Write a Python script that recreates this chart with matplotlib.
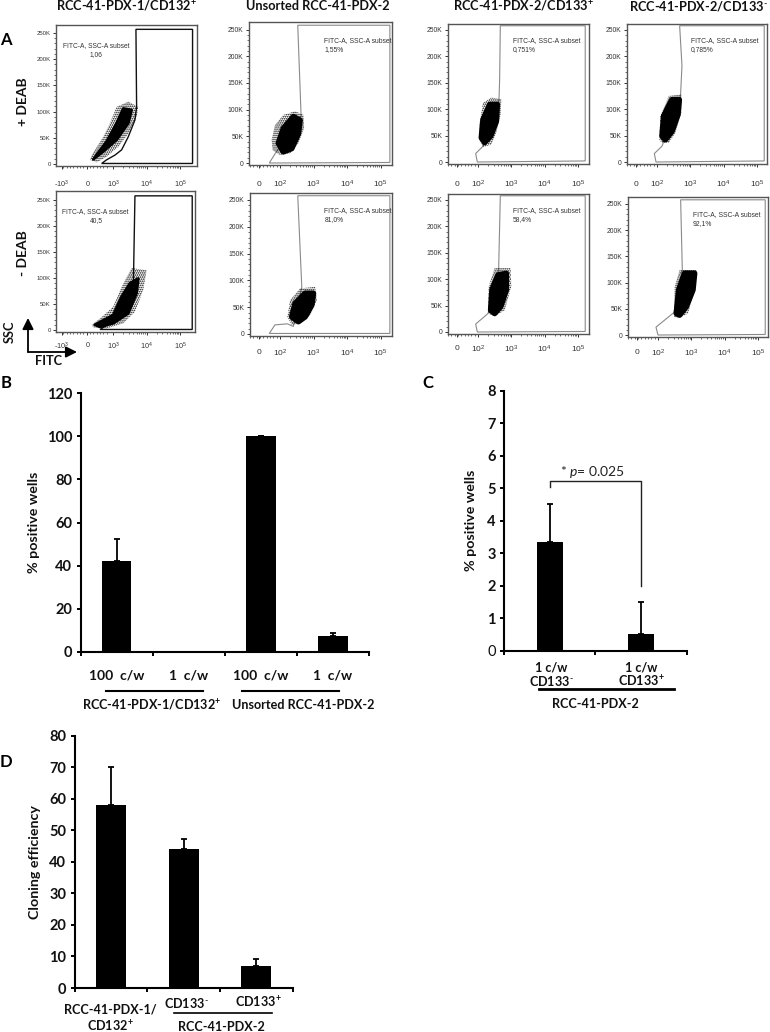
import matplotlib
matplotlib.use("Agg")
import matplotlib.pyplot as plt
import numpy as np
from matplotlib.lines import Line2D
from matplotlib.patches import Polygon, FancyArrowPatch

W, H = 770, 1032
plt.rcParams['font.family'] = ['Lato', 'DejaVu Sans']
plt.rcParams['mathtext.fontset'] = 'custom'
plt.rcParams['mathtext.it'] = 'Lato:italic'
plt.rcParams['mathtext.rm'] = 'Lato'
plt.rcParams['mathtext.default'] = 'regular'
plt.rcParams['hatch.linewidth'] = 0.8

# ---- Panel A: flow plots (x in decades, 10^2 = 0; y in thousands)
subset_labels = ["1,06", "1,55%", "0,751%", "0,785%", "40,5", "81,0%", "58,4%", "92,1%"]
gate_1 = [(0.65,1),(0.8,8),(1.05,17),(1.25,27),(1.45,52),(1.65,84),(1.7,109),(1.68,257),(3.38,257),(3.38,1)]
gate_2 = [(-0.32,0),(-0.15,17),(0.63,88),(0.53,258),(3.28,258),(3.28,1)]
gate_3 = [(-0.02,0),(-0.07,16),(0.15,30),(0.63,118),(0.65,156),(0.67,258),(3.22,258),(3.22,2)]
gate_4 = [(-0.03,0),(-0.08,16),(0.15,30),(0.70,118),(0.75,182),(0.68,258),(3.22,258),(3.22,2)]
gate_5 = [(0.6,1),(0.9,13),(1.3,32),(1.6,77),(1.65,258),(3.37,258),(3.37,1)]
gate_6 = [(-0.32,1),(-0.15,17),(0.22,19),(0.4,14),(0.65,88),(0.53,258),(3.28,258),(3.28,1)]
gate_7 = [(-0.02,0),(-0.07,15),(0.3,35),(0.62,118),(0.67,258),(3.22,258),(3.22,1)]
gate_8 = [(0,0),(-0.06,15),(0.48,43),(0.73,124),(0.68,258),(3.22,258),(3.22,1)]
cloud_1 = [(0.3,8),(0.35,17),(0.7,52),(0.9,78),(1.1,109),(1.45,119),(1.75,109),(1.7,90),(1.45,58),(1.15,33),(0.8,14),(0.5,3)]
core_1 = [(0.4,9),(0.8,43),(1.1,78),(1.3,106),(1.55,103),(1.45,78),(1.1,46),(0.7,24)]
cloud_2 = [(-0.25,43),(-0.15,71),(0.10,90),(0.45,97),(0.70,90),(0.72,65),(0.55,37),(0.30,18),(0,15),(-0.22,24)]
core_2 = [(-0.05,37),(0.10,65),(0.40,87),(0.60,80),(0.55,55),(0.35,27),(0.10,21)]
cloud_3 = [(0.03,42),(0.05,74),(0.15,112),(0.40,122),(0.70,119),(0.68,90),(0.55,56),(0.40,33),(0.15,28)]
core_3 = [(0.10,46),(0.15,80),(0.35,109),(0.58,109),(0.55,77),(0.38,49),(0.20,37)]
cloud_4 = [(0.07,42),(0.10,87),(0.35,125),(0.73,128),(0.73,93),(0.55,55),(0.35,36),(0.15,36)]
core_4 = [(0.15,49),(0.20,87),(0.45,118),(0.67,118),(0.63,90),(0.45,58),(0.25,42)]
cloud_5 = [(0.35,10),(0.6,22),(1.0,45),(1.25,83),(1.55,119),(2.0,115),(1.9,77),(1.65,35),(1.3,13),(0.8,3),(0.4,5)]
core_5 = [(0.45,10),(1.0,29),(1.25,64),(1.5,90),(1.75,99),(1.7,71),(1.45,32),(1.0,13),(0.6,6)]
cloud_6 = [(0.22,32),(0.3,63),(0.6,85),(1.05,88),(1.1,63),(0.9,35),(0.6,20),(0.35,17)]
core_6 = [(0.35,32),(0.45,57),(0.75,76),(1.0,76),(0.95,54),(0.75,32),(0.55,23)]
cloud_7 = [(0.3,35),(0.32,86),(0.5,121),(0.98,121),(1.0,86),(0.8,41),(0.5,30)]
core_7 = [(0.38,41),(0.42,80),(0.6,108),(0.85,111),(0.85,80),(0.68,48),(0.5,35)]
cloud_8 = [(0.48,35),(0.5,92),(0.65,124),(1.15,124),(1.1,86),(0.9,41),(0.6,32)]
core_8 = [(0.55,41),(0.62,86),(0.8,118),(1.1,118),(1.05,86),(0.85,54),(0.65,38)]
gates = [gate_1, gate_2, gate_3, gate_4, gate_5, gate_6, gate_7, gate_8]
clouds = [cloud_1, cloud_2, cloud_3, cloud_4, cloud_5, cloud_6, cloud_7, cloud_8]
cores = [core_1, core_2, core_3, core_4, core_5, core_6, core_7, core_8]
ssc_ticks = [0, 50, 100, 150, 200, 250]
ssc_labels = ["0", "50K", "100K", "150K", "200K", "250K"]

# ---- Panels B, C, D
b_vals = [42, 0, 100, 7.5]
b_err = [10.3, 0, 0.3, 1.3]
b_ticks = [0, 20, 40, 60, 80, 100, 120]
b_cats = ["100  c/w", "1  c/w", "100  c/w", "1  c/w"]
c_vals = [3.35, 0.5]
c_err = [1.15, 1.0]
c_ticks = [0, 1, 2, 3, 4, 5, 6, 7, 8]
d_vals = [58, 44, 7]
d_err = [12, 3.2, 2.1]
d_ticks = [0, 10, 20, 30, 40, 50, 60, 70, 80]

fig = plt.figure(figsize=(W / 100, H / 100), dpi=100, facecolor="white")

def axpx(l, t, r, b):
    return fig.add_axes([l / W, 1 - b / H, (r - l) / W, (b - t) / H])

def ftext(x, y, s, **kw):
    kw.setdefault("ha", "center")
    kw.setdefault("va", "center")
    fig.text(x / W, 1 - y / H, s, **kw)

def fline(x0, y0, x1, y1, lw=1.5, color="black"):
    fig.add_artist(Line2D([x0 / W, x1 / W], [1 - y0 / H, 1 - y1 / H], color=color, lw=lw))

# frame px (l, t, r, b), y px of 250K and 0, x px of decade "0", px per decade, tick label y px, text x offset
flow_geom = [
    (56, 25, 196.5, 166, 33, 164, 80, 33.3, 184, 7),
    (249, 22, 392, 165, 29.5, 163, 280, 33.5, 184, 75),
    (448, 24, 589, 164, 30, 162, 478, 33.3, 184, 65),
    (627, 24, 767, 164, 30, 162, 657, 33.3, 184, 64),
    (56, 191, 195, 332, 200, 330, 80, 33.3, 346, 6),
    (249.5, 193, 392, 336, 200, 334, 280, 33.5, 353, 75),
    (448, 194, 589, 334, 200, 332, 478, 33.3, 349, 65),
    (628, 197, 768, 337, 204, 335, 658, 33.3, 353, 65),
]
minor_dec = np.log10(np.arange(2, 10))
small = dict(color="#333333", family="Liberation Sans")
for i, g in enumerate(flow_geom):
    l, t, r, b, y250, y0, x0, dec, lab_y, tx = g
    ax = axpx(l, t, r, b)
    kpp = 250 / (y0 - y250)
    ax.set_xlim((l - x0) / dec, (r - x0) / dec)
    ax.set_ylim((y0 - b) * kpp, (y0 - t) * kpp)
    old = i in (0, 4)
    ax.add_patch(Polygon(gates[i], closed=True, fill=False, zorder=1,
                         edgecolor="#111111" if old else "#8a8a8a", lw=1.0 if old else 0.8))
    ax.add_patch(Polygon(clouds[i], closed=True, fill=False, hatch="........", edgecolor="black", lw=0, zorder=2))
    ax.add_patch(Polygon(cores[i], closed=True, facecolor="black", edgecolor="black",
                         lw=2.0 if old else 4.0, joinstyle="round", zorder=3))
    if old:
        decades = [1, 2, 3]
        ax.set_xticks([-0.55, 0.22, 1, 2, 3])
        names = [(-0.55, "-10"), (1, "10"), (2, "10"), (3, "10")]
        pw = ["3", "3", "4", "5"]
        ftext(x0 + 0.22 * dec, lab_y, "0", fontsize=5.2, **small)
        lin_minor = np.arange(-0.5, 0.9, 0.1)
    else:
        decades = [0, 1, 2, 3]
        ax.set_xticks([-0.62, 0, 1, 2, 3])
        names = [(0, "10"), (1, "10"), (2, "10"), (3, "10")]
        pw = ["2", "3", "4", "5"]
        ftext(x0 - 0.62 * dec, lab_y, "0", fontsize=6, **small)
        lin_minor = np.arange(-0.9, 0, 0.1)
    for (u, s), p in zip(names, pw):
        ftext(x0 + u * dec, lab_y, f"{s}$^{{{p}}}$", fontsize=5.2 if old else 6, **small)
    ax.set_xticklabels([])
    ax.set_xticks(list(lin_minor) + [d + m for d in decades[:-1] for m in minor_dec], minor=True)
    ax.set_yticks(ssc_ticks)
    ax.set_yticks(np.arange(0, 260, 10), minor=True)
    ax.set_yticklabels(ssc_labels, fontsize=4.3 if old else 4.9, **small)
    ax.tick_params(axis="both", which="major", length=2.3, width=0.7, color="#333333", pad=1.5)
    ax.tick_params(axis="both", which="minor", length=1.2, width=0.5, color="#333333")
    for s in ax.spines.values():
        s.set_color("#555555")
        s.set_linewidth(1.0)
    fs = 4.75 if old else 4.9
    if old:
        ftext(l + tx, t + 21, "FITC-A, SSC-A subset", ha="left", fontsize=fs, **small)
        ftext(l + 40, t + 30, subset_labels[i], fontsize=fs, **small)
    else:
        ftext(l + tx, y250 + 11, "FITC-A, SSC-A subset", ha="left", fontsize=fs, **small)
        ftext(l + tx, y250 + 20, subset_labels[i], ha="left", fontsize=fs, **small)

MINUS = r"$^{\text{-}}$"
# Column and row titles
title_kw = dict(fontsize=9.2, fontweight="bold", color="#111111")
ftext(126, 6, "RCC-41-PDX-1/CD132$^{+}$", **title_kw)
ftext(318, 6, "Unsorted RCC-41-PDX-2", **title_kw)
ftext(523, 6, "RCC-41-PDX-2/CD133$^{+}$", **title_kw)
ftext(698, 6, "RCC-41-PDX-2/CD133" + MINUS, **title_kw)
ftext(23, 102, "+ DEAB", rotation=90, fontsize=10, fontweight="bold", color="#111111")
ftext(23, 253, "- DEAB", rotation=90, fontsize=10, fontweight="bold", color="#111111")
ftext(10, 332, "SSC", rotation=90, **title_kw)
ftext(49, 361, "FITC", **title_kw)
for s, x, y in [("A", 6, 40), ("B", 6, 383), ("C", 428, 383), ("D", 6, 762)]:
    ftext(x, y, s, fontsize=12, fontweight="bold", color="black")
arrow = dict(arrowstyle="-|>,head_width=0.3,head_length=0.6", color="black", lw=1.3, shrinkA=0, shrinkB=0,
             mutation_scale=11)
fig.add_artist(FancyArrowPatch((28 / W, 1 - 352 / H), (28 / W, 1 - 318 / H), transform=fig.transFigure, **arrow))
fig.add_artist(FancyArrowPatch((28 / W, 1 - 352 / H), (77 / W, 1 - 352 / H), transform=fig.transFigure, **arrow))

def bars(l, t, r, b, vals, errs, ticks, width, ylabel, tick_fs=10.5):
    ax = axpx(l, t, r, b)
    xs = np.arange(len(vals))
    ax.bar(xs, vals, width=width, color="black", zorder=2)
    ax.errorbar(xs, vals, yerr=[np.zeros(len(vals)), errs], fmt="none", ecolor="black",
                elinewidth=1.3, capsize=2.5, capthick=1.3, zorder=1)
    ax.set_xlim(-0.5, len(vals) - 0.5)
    ax.set_ylim(ticks[0], ticks[-1])
    ax.set_xticks(np.arange(len(vals) + 1) - 0.5)
    ax.set_xticklabels([])
    ax.set_yticks(ticks)
    ax.set_yticklabels([str(v) for v in ticks], fontsize=tick_fs, fontweight="bold", color="#111111")
    ax.tick_params(axis="both", length=3, width=1.4, pad=3)
    for s in ("top", "right"):
        ax.spines[s].set_visible(False)
    for s in ("left", "bottom"):
        ax.spines[s].set_linewidth(1.5)
    ax.set_ylabel(ylabel, fontsize=10.3, fontweight="bold", color="#111111")
    ax.patch.set_alpha(0)
    return ax

lab_kw = dict(fontsize=9.1, fontweight="bold", color="#111111")

# B
ax_b = bars(80.5, 393.3, 369, 651.7, b_vals, b_err, b_ticks, 0.41, "% positive wells")
ax_b.yaxis.set_label_coords(-0.14, 0.5)
for i, c in enumerate(b_cats):
    ftext(80.5 + 72.1 * (i + 0.5), 676, c, fontsize=10, fontweight="bold", color="#111111")
fline(106, 691, 203, 691)
fline(242, 691, 339, 691)
ftext(152, 705, "RCC-41-PDX-1/CD132$^{+}$", **lab_kw)
ftext(303, 705, "Unsorted RCC-41-PDX-2", **lab_kw)

# C
ax_c = bars(504, 390.7, 686.7, 650.7, c_vals, c_err, c_ticks, 0.285, "% positive wells")
ax_c.yaxis.set_label_coords(-0.148, 0.5)
ax_c.get_yticklabels()[0].set_fontweight("normal")
ax_c.plot([0, 0, 1, 1], [5.05, 5.22, 5.22, 2.0], color="#222222", lw=1.0)
ax_c.text(0.11, 5.5, r"* $\mathit{p}$= 0.025", fontsize=10, ha="left", va="center", color="#222222", clip_on=False)
for x, a, b_ in [(551, "1 c/w", "CD133" + MINUS), (641, "1 c/w", "CD133$^{+}$")]:
    ftext(x, 667, a, **lab_kw)
    ftext(x, 681, b_, **lab_kw)
fline(539, 688.7, 674, 688.7, lw=2)
ftext(595, 704, "RCC-41-PDX-2", **lab_kw)

# D
ax_d = bars(74.7, 735.7, 292.7, 988, d_vals, d_err, d_ticks, 0.41, "Cloning efficiency")
ax_d.yaxis.set_label_coords(-0.155, 0.5)
ftext(110, 1009, "RCC-41-PDX-1/", **lab_kw)
ftext(110, 1026, "CD132$^{+}$", **lab_kw)
ftext(186, 1002.7, "CD133" + MINUS, **lab_kw)
ftext(258, 1002.7, "CD133$^{+}$", **lab_kw)
fline(174, 1013.3, 272, 1013.3, lw=1.2)
ftext(221, 1027, "RCC-41-PDX-2", **lab_kw)

fig.savefig("out.png", dpi=100)
